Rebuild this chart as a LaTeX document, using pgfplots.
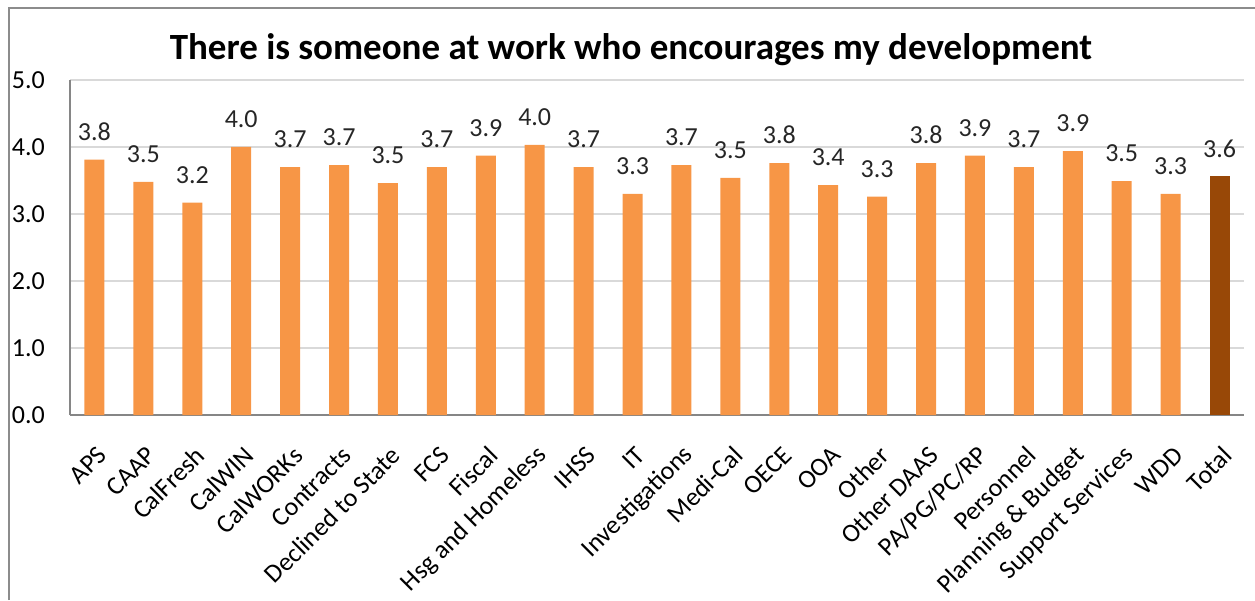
\documentclass[border=0pt]{standalone}
\usepackage{fontspec}
\setmainfont{Carlito}
\usepackage{pgfplots}
\pgfplotsset{compat=1.18}
\definecolor{barorange}{HTML}{F79646}
\definecolor{bartotal}{HTML}{984807}
\definecolor{gridgray}{HTML}{D9D9D9}
\definecolor{axisgray}{HTML}{868686}
\definecolor{framegray}{HTML}{8C8C8C}
\begin{document}
\begin{tikzpicture}
\useasboundingbox (0pt,0pt) rectangle (1255pt,600pt);
% outer frame (right and bottom cut off in the reference)
\draw[framegray, line width=2pt] (9pt,0pt) -- (9pt,592pt) -- (1256pt,592pt);
\node[font=\fontsize{37}{41}\selectfont\bfseries] at (631pt,550pt) {There is someone at work who encourages my development};
\begin{axis}[
    at={(70pt,185pt)}, anchor=south west,
    scale only axis,
    width=1174pt, height=335pt,
    ybar, bar width=20pt, bar shift=0pt,
    xmin=-0.5, xmax=23.5,
    ymin=0, ymax=5,
    ytick={0,1,2,3,4,5},
    xtick={0,...,23},
    xticklabels={APS,CAAP,CalFresh,CalWIN,CalWORKs,Contracts,Declined to State,FCS,Fiscal,Hsg and Homeless,IHSS,IT,Investigations,Medi-Cal,OECE,OOA,Other,Other DAAS,PA/PG/PC/RP,Personnel,Planning \& Budget,Support Services,WDD,Total},
    axis lines*=left,
    axis line style={axisgray, line width=1.2pt, -},
    ymajorgrids, grid style={gridgray, line width=1.2pt},
    major tick length=0pt,
    /pgf/number format/assume math mode=true,
    yticklabel style={/pgf/number format/.cd, fixed, fixed zerofill, precision=1, /tikz/.cd,
        font=\fontsize{26}{30}\selectfont, anchor=east, inner sep=0pt, xshift=-25pt},
    xticklabel style={font=\fontsize{26}{30}\selectfont, xshift=8pt, yshift=-36pt, rotate=45, anchor=east, inner sep=0pt},
    nodes near coords,
    nodes near coords style={/pgf/number format/.cd, fixed, fixed zerofill, precision=1, /tikz/.cd,
        font=\fontsize{26}{30}\selectfont, inner sep=0pt, yshift=19pt, anchor=south, text=black!85},
]
\addplot[fill=barorange, draw=none] coordinates {
    (0,3.81) (1,3.48) (2,3.17) (3,4.00) (4,3.70) (5,3.73) (6,3.46) (7,3.70)
    (8,3.87) (9,4.03) (10,3.70) (11,3.30) (12,3.73) (13,3.54) (14,3.76) (15,3.43)
    (16,3.26) (17,3.76) (18,3.87) (19,3.70) (20,3.94) (21,3.49) (22,3.30)
};
\addplot[fill=bartotal, draw=none] coordinates {(23,3.56)};
\end{axis}
\end{tikzpicture}
\end{document}
